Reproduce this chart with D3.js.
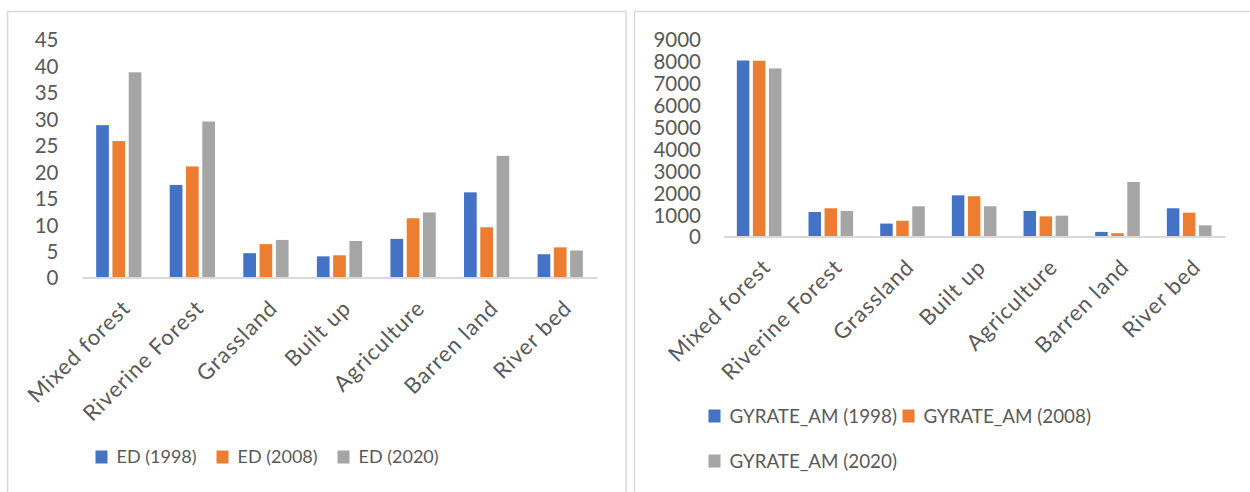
<!DOCTYPE html>
<html>
<head>
<meta charset="utf-8">
<script src="https://cdn.jsdelivr.net/npm/d3@7"></script>
<style>
  html, body { margin: 0; padding: 0; background: #ffffff; }
  svg { display: block; }
  text { font-family: Lato, "Open Sans", sans-serif; fill: #595959; }
</style>
</head>
<body>
<svg id="chart" width="1250" height="492"></svg>
<script>
// Land-cover classes shared by both panels
const categories = ["Mixed forest", "Riverine Forest", "Grassland", "Built up", "Agriculture", "Barren land", "River bed"];

// Edge density (ED) per class
const ed1998 = [28.8, 17.5, 4.6, 4.0, 7.3, 16.1, 4.4];
const ed2008 = [25.8, 21.0, 6.3, 4.2, 11.2, 9.5, 5.7];
const ed2020 = [38.8, 29.5, 7.1, 6.9, 12.3, 23.0, 5.1];

// Area-weighted radius of gyration (GYRATE_AM) per class
const gy1998 = [8040, 1120, 590, 1880, 1170, 210, 1290];
const gy2008 = [8030, 1290, 720, 1840, 920, 150, 1090];
const gy2020 = [7680, 1170, 1380, 1380, 950, 2490, 510];

const edTicks = [0, 5, 10, 15, 20, 25, 30, 35, 40, 45];
const gyTicks = [0, 1000, 2000, 3000, 4000, 5000, 6000, 7000, 8000, 9000];

const edSeries = [
  { name: "ED (1998)", values: ed1998 },
  { name: "ED (2008)", values: ed2008 },
  { name: "ED (2020)", values: ed2020 }
];
const gySeries = [
  { name: "GYRATE_AM (1998)", values: gy1998 },
  { name: "GYRATE_AM (2008)", values: gy2008 },
  { name: "GYRATE_AM (2020)", values: gy2020 }
];

const colors = ["#4472C4", "#ED7D31", "#A5A5A5"];
const svg = d3.select("#chart");

function drawPanel(cfg) {
  const g = svg.append("g");

  // panel frame
  g.append("rect")
    .attr("x", cfg.frame.x).attr("y", cfg.frame.y)
    .attr("width", cfg.frame.w).attr("height", cfg.frame.h)
    .attr("fill", "#ffffff").attr("stroke", "#D9D9D9").attr("stroke-width", 1.5);

  const x0 = d3.scaleBand().domain(categories).range([cfg.x0, cfg.x1]).padding(0);
  const groupW = x0.step() * cfg.groupFrac;
  const x1 = d3.scaleBand().domain(d3.range(cfg.series.length))
    .range([-groupW / 2, groupW / 2]).paddingInner(0.22).paddingOuter(0);
  const y = d3.scaleLinear().domain([0, d3.max(cfg.ticks)]).range([cfg.base, cfg.top]);

  // value axis labels (no line, no gridlines)
  const yAxis = d3.axisLeft(y).tickValues(cfg.ticks).tickSize(0).tickPadding(0).tickFormat(d3.format("d"));
  const ya = g.append("g").attr("transform", `translate(${cfg.labelX},0)`).call(yAxis);
  ya.select(".domain").remove();
  ya.selectAll("text")
    .attr("font-size", 20.5).attr("fill", "#595959")
    .attr("font-family", "Lato, sans-serif")
    .attr("dy", "0.36em");

  // bars
  cfg.series.forEach((s, si) => {
    g.append("g").selectAll("rect")
      .data(s.values)
      .join("rect")
      .attr("x", (d, i) => x0(categories[i]) + x0.bandwidth() / 2 + x1(si))
      .attr("width", x1.bandwidth())
      .attr("y", d => y(d))
      .attr("height", d => y(0) - y(d))
      .attr("fill", colors[si]);
  });

  // category axis baseline
  const xAxis = d3.axisBottom(x0).tickSize(0).tickFormat("");
  const xa = g.append("g").attr("transform", `translate(0,${cfg.base})`).call(xAxis);
  xa.select(".domain").attr("stroke", "#D9D9D9").attr("stroke-width", 2);

  // rotated category labels
  g.append("g").selectAll("text")
    .data(categories)
    .join("text")
    .attr("transform", d => `translate(${x0(d) + x0.bandwidth() / 2 + 13},${cfg.base + 32}) rotate(-45)`)
    .attr("text-anchor", "end")
    .attr("font-size", 22)
    .attr("letter-spacing", 1)
    .text(d => d);

  // legend
  const lg = g.append("g");
  cfg.legend.forEach((p, i) => {
    lg.append("rect")
      .attr("x", p.x).attr("y", p.y - 6.5)
      .attr("width", 12).attr("height", 13)
      .attr("fill", colors[i]);
    lg.append("text")
      .attr("x", p.x + 21).attr("y", p.y)
      .attr("dy", "0.36em")
      .attr("font-size", cfg.legendSize)
      .text(cfg.series[i].name);
  });
}

drawPanel({
  frame: { x: 7.5, y: 11.5, w: 618.5, h: 500 },
  x0: 82, x1: 597, base: 277.5, top: 39.5, labelX: 58.5,
  groupFrac: 0.615,
  ticks: edTicks, series: edSeries, legendSize: 18,
  legend: [{ x: 95.5, y: 457 }, { x: 216.5, y: 457 }, { x: 337.5, y: 457 }]
});

drawPanel({
  frame: { x: 634.5, y: 11.5, w: 700, h: 500 },
  x0: 723.3, x1: 1225, base: 236.5, top: 39.5, labelX: 701,
  groupFrac: 0.622,
  ticks: gyTicks, series: gySeries, legendSize: 18.8,
  legend: [{ x: 708.5, y: 416 }, { x: 902.5, y: 416 }, { x: 708.5, y: 461 }]
});
</script>
</body>
</html>
